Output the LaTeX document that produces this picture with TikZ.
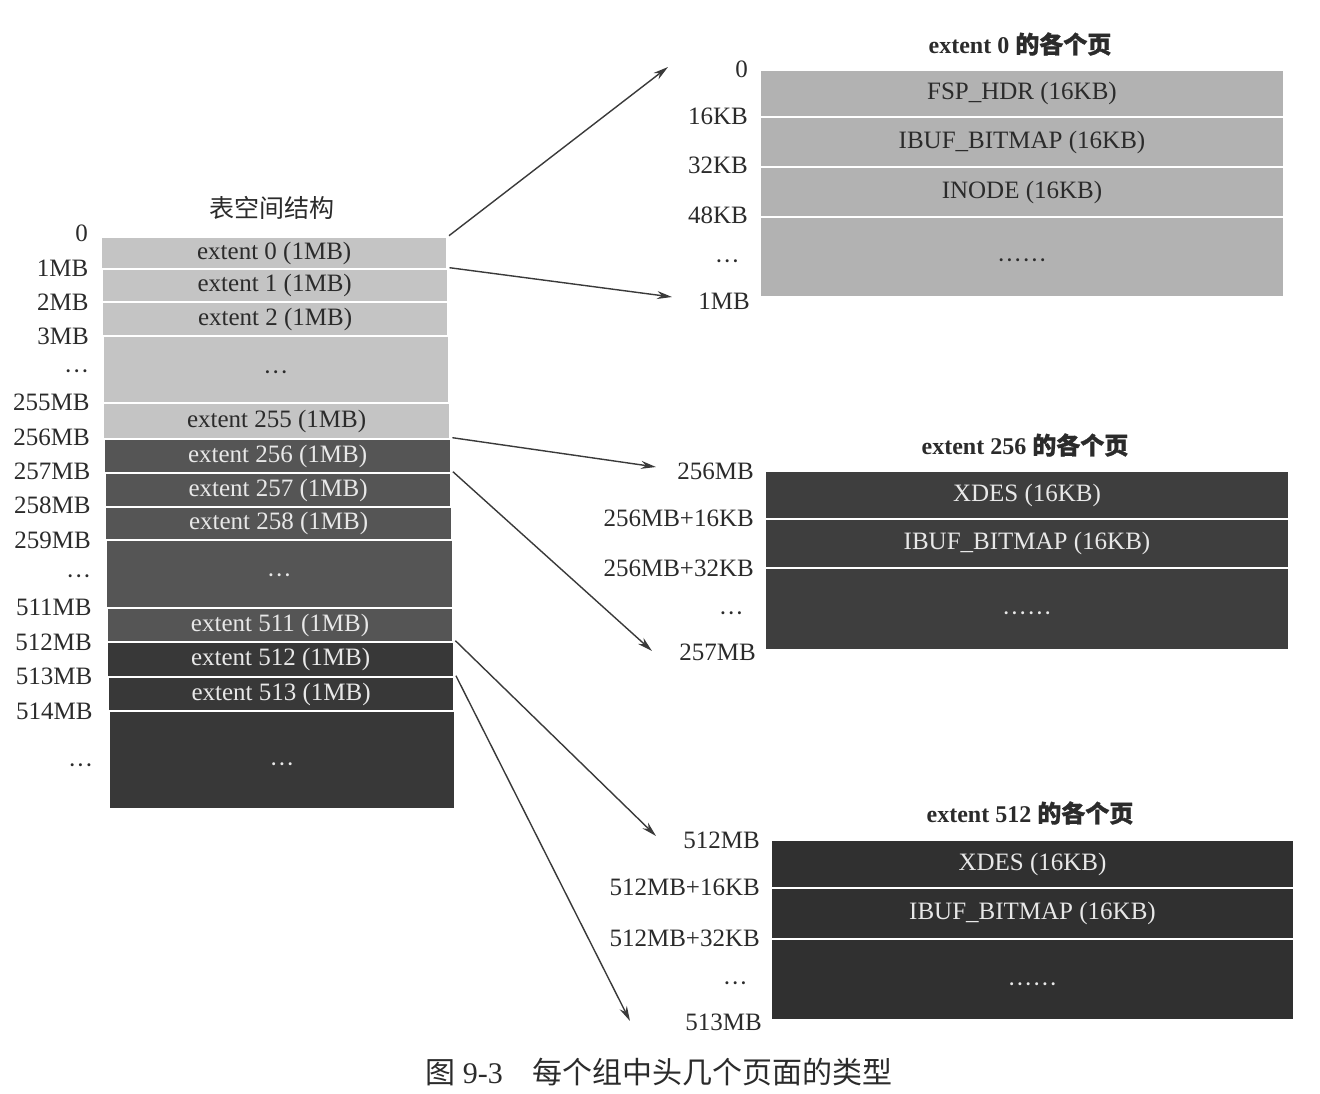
\documentclass[tikz,border=0pt]{standalone}
\usepackage{fontspec}
\setmainfont{Liberation Serif}
\newfontfamily\cjk{Noto Sans CJK SC}
\newfontfamily\cjkb[FakeBold=1.2]{Noto Sans CJK SC}
\usetikzlibrary{arrows.meta}
\definecolor{cLite}{HTML}{C4C4C4}
\definecolor{cLiteP}{HTML}{B2B2B2}
\definecolor{cDarkA}{HTML}{555555}
\definecolor{cDarkB}{HTML}{383838}
\definecolor{cDarkP}{HTML}{3E3E3E}
\definecolor{cDarkQ}{HTML}{303030}
\definecolor{cTxtD}{HTML}{2B2B2B}
\definecolor{cTxtL}{HTML}{E8E8E8}
\definecolor{cArr}{HTML}{3A3A3A}
\begin{document}
\begin{tikzpicture}[x=1pt,y=-1pt,
  every node/.style={font=\fontsize{25}{30}\selectfont, inner sep=0pt},
  row/.style={draw=white, line width=2.6pt, minimum width=347pt},
  lite/.style={row, fill=cLite, text=cTxtD},
  darka/.style={row, fill=cDarkA, text=cTxtL},
  darkb/.style={row, fill=cDarkB, text=cTxtL},
  prow/.style={draw=white, line width=2.6pt, minimum width=524pt},
  plite/.style={prow, fill=cLiteP, text=cTxtD},
  pdark/.style={prow, fill=cDarkP, text=cTxtL},
  pdarkq/.style={prow, fill=cDarkQ, text=cTxtL},
  lbl/.style={anchor=east, text=cTxtD},
  dotlbl/.style={lbl, yshift=-7pt},
  ttl/.style={text=cTxtD, font=\fontsize{24}{28}\selectfont\bfseries},
  conn/.style={draw=cArr, line width=1.4pt, -{Stealth[length=15pt,width=8pt]}}
]
\fill[white] (0,0) rectangle (1320,1094);
\useasboundingbox (0,0) rectangle (1320,1094);

% ---------- left: tablespace structure ----------
\node[text=cTxtD] (tsTitle) at (272,208) {\cjk 表空间结构};

\node[lite, minimum height=32pt] (e0) at (274.2,253) {extent 0 (1MB)};
\node[lite, minimum height=33pt] (e1) at (274.7,285.5) {extent 1 (1MB)};
\node[lite, minimum height=34pt] (e2) at (275.1,319) {extent 2 (1MB)};
\node[lite, minimum height=67pt] (ed1) at (275.9,369.5) {};
\node[text=cTxtD, yshift=-6pt] (ed1t) at (ed1.center) {···};
\node[lite, minimum height=36pt] (e255) at (276.6,421) {extent 255 (1MB)};
\node[darka, minimum height=34pt] (e256) at (277.6,456) {extent 256 (1MB)};
\node[darka, minimum height=34pt] (e257) at (278.1,490) {extent 257 (1MB)};
\node[darka, minimum height=33pt] (e258) at (278.6,523.5) {extent 258 (1MB)};
\node[darka, minimum height=68pt] (ed2) at (279.3,574) {};
\node[text=cTxtL, yshift=-5pt] (ed2t) at (ed2.center) {···};
\node[darka, minimum height=34pt] (e511) at (280.1,625) {extent 511 (1MB)};
\node[darkb, minimum height=35pt] (e512) at (280.6,659.5) {extent 512 (1MB)};
\node[darkb, minimum height=34pt] (e513) at (281.1,694) {extent 513 (1MB)};
\node[darkb, minimum height=98pt] (ed3) at (282,760) {};
\node[text=cTxtL, yshift=-8pt] (ed3t) at (ed3.center) {···};

\node[lbl] (l0) at (88,233) {0};
\node[lbl] (l1) at (88.4,268) {1MB};
\node[lbl] (l2) at (88.7,302) {2MB};
\node[lbl] (l3) at (89,336) {3MB};
\node[dotlbl] (l4) at (89.4,368) {···};
\node[lbl] (l255) at (89.7,402) {255MB};
\node[lbl] (l256) at (90,437) {256MB};
\node[lbl] (l257) at (90.4,471) {257MB};
\node[lbl] (l258) at (90.7,505) {258MB};
\node[lbl] (l259) at (91.1,540) {259MB};
\node[dotlbl] (l260) at (91.4,573) {···};
\node[lbl] (l511) at (91.7,607) {511MB};
\node[lbl] (l512) at (92.1,642) {512MB};
\node[lbl] (l513) at (92.4,676) {513MB};
\node[lbl] (l514) at (92.8,711) {514MB};
\node[dotlbl] (l515) at (93.3,762) {···};

% ---------- panel 1: extent 0 ----------
\node[ttl] (t1) at (1020,44) {extent 0 {\cjkb 的各个页}};
\node[plite, minimum height=47pt] (a0) at (1022,93.5) {FSP\_HDR (16KB)};
\node[plite, minimum height=50pt] (a1) at (1022,142) {IBUF\_BITMAP (16KB)};
\node[plite, minimum height=50pt] (a2) at (1022,192) {INODE (16KB)};
\node[plite, minimum height=80pt] (a3) at (1022,257) {};
\node[text=cTxtD, yshift=-7pt] (a3t) at (a3.center) {······};
\node[lbl] (m0) at (748,69) {0};
\node[lbl] (m1) at (748,116) {16KB};
\node[lbl] (m2) at (748,165) {32KB};
\node[lbl] (m3) at (748,215) {48KB};
\node[dotlbl] (m4) at (740,258) {···};
\node[lbl] (m5) at (750,301) {1MB};

% ---------- panel 2: extent 256 ----------
\node[ttl] (t2) at (1025,445) {extent 256 {\cjkb 的各个页}};
\node[pdark, minimum height=48pt] (b0) at (1027,495) {XDES (16KB)};
\node[pdark, minimum height=49pt] (b1) at (1027,543.5) {IBUF\_BITMAP (16KB)};
\node[pdark, minimum height=82pt] (b2) at (1027,609) {};
\node[text=cTxtL, yshift=-8pt] (b2t) at (b2.center) {······};
\node[lbl] (n0) at (754,471) {256MB};
\node[lbl] (n1) at (754,518) {256MB+16KB};
\node[lbl] (n2) at (754,568) {256MB+32KB};
\node[dotlbl] (n3) at (744,610) {···};
\node[lbl] (n4) at (756,652) {257MB};

% ---------- panel 3: extent 512 ----------
\node[ttl] (t3) at (1030,813) {extent 512 {\cjkb 的各个页}};
\node[pdarkq, minimum height=48pt] (c0) at (1032.5,864) {XDES (16KB)};
\node[pdarkq, minimum height=51pt] (c1) at (1032.5,913.5) {IBUF\_BITMAP (16KB)};
\node[pdarkq, minimum height=81pt] (c2) at (1032.5,979.5) {};
\node[text=cTxtL, yshift=-8pt] (c2t) at (c2.center) {······};
\node[lbl] (o0) at (760,840) {512MB};
\node[lbl] (o1) at (760,887) {512MB+16KB};
\node[lbl] (o2) at (760,938) {512MB+32KB};
\node[dotlbl] (o3) at (748,980) {···};
\node[lbl] (o4) at (762,1022) {513MB};

% ---------- caption ----------
\node[text=cTxtD, font=\fontsize{30}{34}\selectfont] (cap) at (659,1072)
  {{\cjk 图} 9-3\hspace{1em}{\cjk 每个组中头几个页面的类型}};

% ---------- connectors ----------
\coordinate (z1) at (668,67);
\coordinate (z2) at (672,297);
\coordinate (z3) at (656,467);
\coordinate (z4) at (652,651);
\coordinate (z5) at (656,836);
\coordinate (z6) at (630,1021);
\draw[conn] (e0.north east) -- (z1);
\draw[conn] (e1.north east) -- (z2);
\draw[conn] (e256.north east) -- (z3);
\draw[conn] (e257.north east) -- (z4);
\draw[conn] (e512.north east) -- (z5);
\draw[conn] (e513.north east) -- (z6);
\end{tikzpicture}
\end{document}
